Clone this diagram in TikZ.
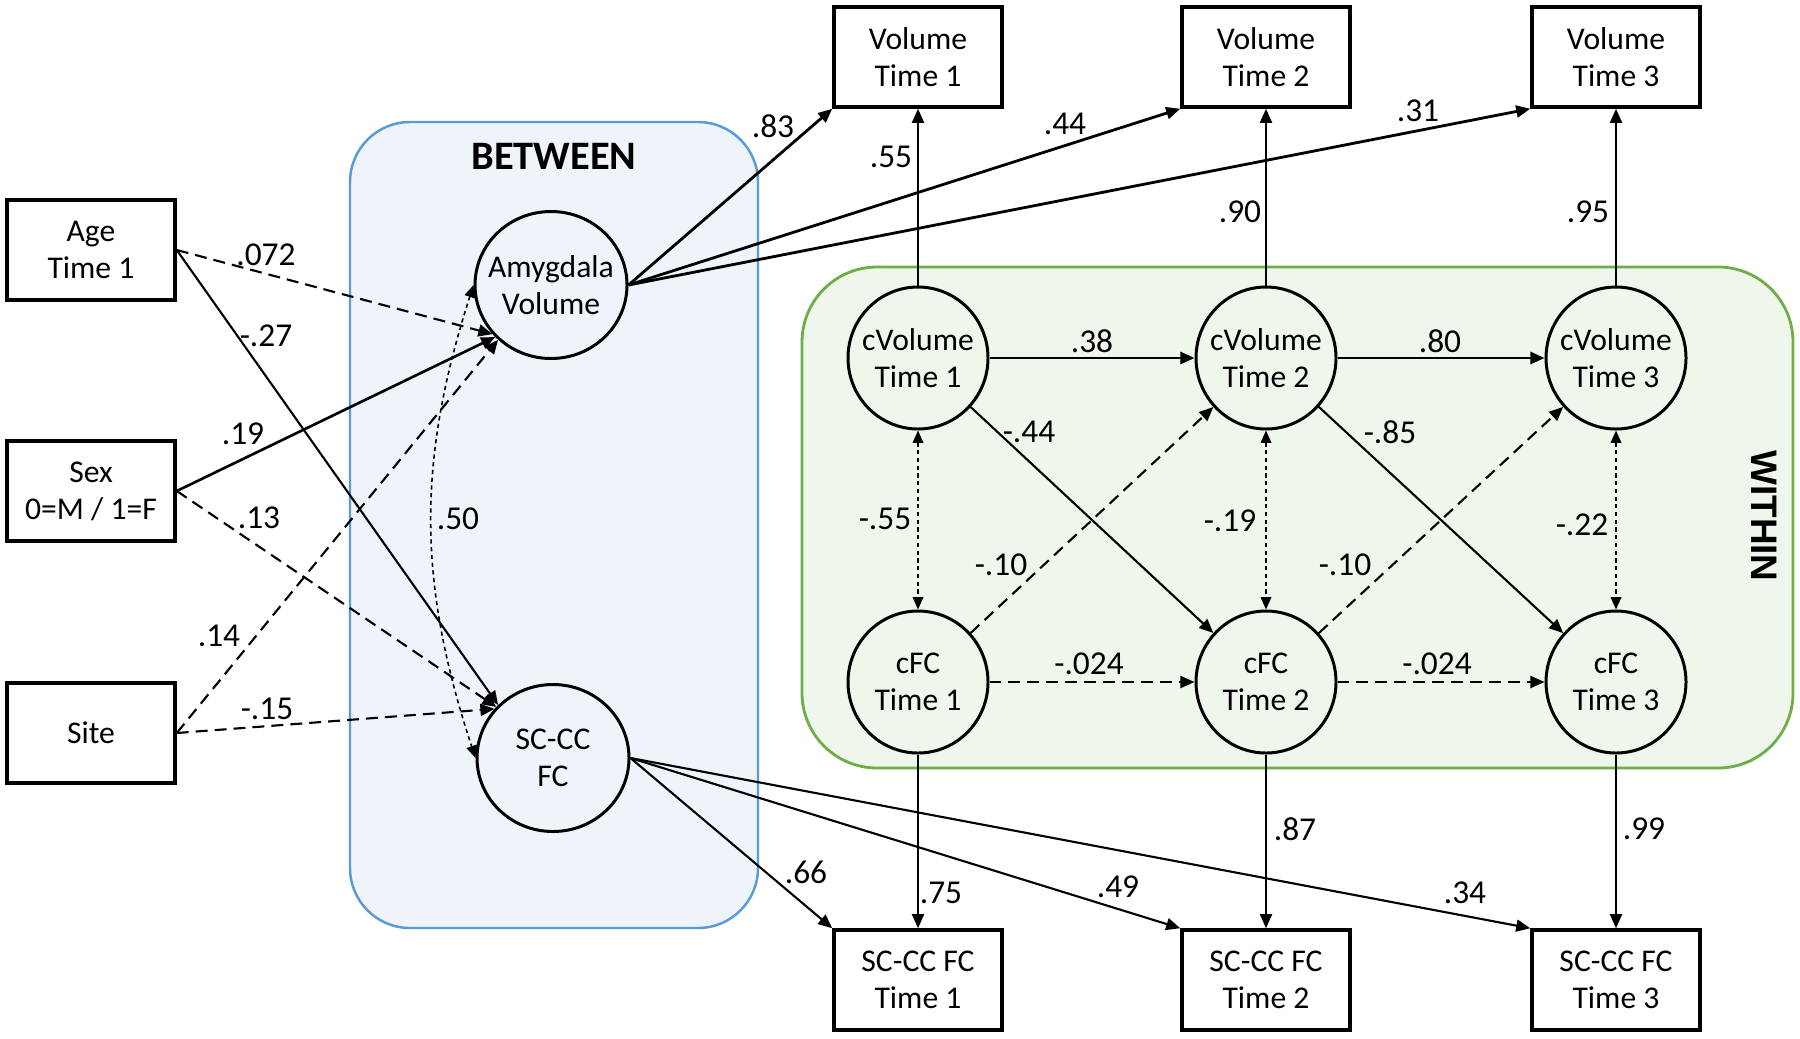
\documentclass[tikz,border=0pt]{standalone}
\usepackage{fontspec}
\setmainfont{Carlito}
\newfontfamily\headfont{Liberation Sans}
\usetikzlibrary{shapes.geometric,arrows.meta}

\definecolor{betweenfill}{HTML}{EEF4FA}
\definecolor{betweenline}{HTML}{5B9BD5}
\definecolor{withinfill}{HTML}{EFF6EB}
\definecolor{withinline}{HTML}{70AD47}

\tikzset{
  obs/.style={draw, line width=1pt, minimum width=16.8mm, minimum height=10mm,
    align=center, fill=white, font=\fontsize{9}{10.5}\selectfont},
  lat/.style={draw, ellipse, line width=0.85pt, inner xsep=-1.5mm, inner ysep=0pt,
    minimum width=14mm, minimum height=14.2mm, align=center,
    font=\fontsize{9}{10.5}\selectfont},
  reg/.style={-{Triangle[length=4pt,width=3.4pt]}, line width=0.6pt},
  regdash/.style={reg, dash pattern=on 3.4pt off 2pt},
  cov/.style={{Triangle[length=3.5pt,width=3pt]}-{Triangle[length=3.5pt,width=3pt]},
    line width=0.45pt, dash pattern=on 1.2pt off 1pt},
  lbl/.style={font=\fontsize{9.5}{11}\selectfont, inner sep=1pt}
}

\begin{document}
\begin{tikzpicture}[x=0.1mm,y=-0.1mm]
\useasboundingbox (0,0) rectangle (1800,1038);

% panels
\draw[betweenline, fill=betweenfill, line width=0.7pt, rounded corners=6mm] (350,122) rectangle (758,928);
\draw[withinline, fill=withinfill, line width=0.8pt, rounded corners=7.5mm] (802,267) rectangle (1793,768);
\node[font=\fontsize{11.5}{13}\selectfont\bfseries] (between) at (554,156) {BETWEEN};
\node[font=\headfont\fontsize{10.5}{12}\selectfont\bfseries, rotate=-90] (within) at (1764,516) {WITHIN};

% observed variables
\node[obs] (age) at (91,250) {Age\\Time 1};
\node[obs] (sex) at (91,491) {Sex\\0=M / 1=F};
\node[obs] (site) at (91,733) {Site};
\node[obs] (vol1) at (918,57) {Volume\\Time 1};
\node[obs] (vol2) at (1266,57) {Volume\\Time 2};
\node[obs] (vol3) at (1616,57) {Volume\\Time 3};
\node[obs] (fc1) at (918,980) {SC-CC FC\\Time 1};
\node[obs] (fc2) at (1266,980) {SC-CC FC\\Time 2};
\node[obs] (fc3) at (1616,980) {SC-CC FC\\Time 3};

% latent variables
\node[lat, minimum width=15.2mm, minimum height=14.7mm] (amy) at (551,285) {Amygdala\\Volume};
\node[lat, minimum width=15.2mm, minimum height=14.7mm] (scfc) at (553,758) {SC-CC\\FC};
\node[lat] (cv1) at (918,358) {cVolume\\Time 1};
\node[lat] (cv2) at (1266,358) {cVolume\\Time 2};
\node[lat] (cv3) at (1616,358) {cVolume\\Time 3};
\node[lat] (cf1) at (918,682) {cFC\\Time 1};
\node[lat] (cf2) at (1266,682) {cFC\\Time 2};
\node[lat] (cf3) at (1616,682) {cFC\\Time 3};

% covariates
\draw[regdash] (age.east) -- (amy.220);
\draw[reg] (age.east) -- (scfc.136);
\draw[reg, line width=0.75pt] (sex.east) -- (amy.223);
\draw[regdash] (sex.east) -- (scfc.138);
\draw[regdash] (site.east) -- (amy.226);
\draw[regdash] (site.east) -- (scfc.140);
\draw[cov] (amy.west) to[bend right=18] (scfc.west);

% between loadings
\draw[reg, line width=0.8pt] (amy.east) -- (vol1.south west);
\draw[reg, line width=0.8pt] (amy.east) -- (vol2.south west);
\draw[reg, line width=0.8pt] (amy.east) -- (vol3.south west);
\draw[reg] (scfc.east) -- (fc1.north west);
\draw[reg] (scfc.east) -- (fc2.north west);
\draw[reg] (scfc.east) -- (fc3.north west);

% within loadings
\draw[reg] (cv1.north) -- (vol1.south);
\draw[reg] (cv2.north) -- (vol2.south);
\draw[reg] (cv3.north) -- (vol3.south);
\draw[reg] (cf1.south) -- (fc1.north);
\draw[reg] (cf2.south) -- (fc2.north);
\draw[reg] (cf3.south) -- (fc3.north);

% cross-lagged paths
\draw[reg, line width=0.8pt] (cv1) -- (cv2);
\draw[reg, line width=0.8pt] (cv2) -- (cv3);
\draw[regdash] (cf1) -- (cf2);
\draw[regdash] (cf2) -- (cf3);
\draw[reg] (cv1) -- (cf2);
\draw[reg] (cv2) -- (cf3);
\draw[regdash] (cf1) -- (cv2);
\draw[regdash] (cf2) -- (cv3);
\draw[cov] (cv1.south) -- (cf1.north);
\draw[cov] (cv2.south) -- (cf2.north);
\draw[cov] (cv3.south) -- (cf3.north);

% coefficients
\node[lbl] (c072) at (266,255) {.072};
\node[lbl] (c27) at (266,336) {-.27};
\node[lbl] (c19) at (243,434) {.19};
\node[lbl] (c13) at (259,518) {.13};
\node[lbl] (c14) at (219,636) {.14};
\node[lbl] (c15) at (267,709) {-.15};
\node[lbl] (c50) at (458,519) {.50};
\node[lbl] (c83) at (773,126) {.83};
\node[lbl] (c44) at (1065,124) {.44};
\node[lbl] (c31) at (1418,111) {.31};
\node[lbl] (c55) at (891,157) {.55};
\node[lbl] (c90) at (1240,212) {.90};
\node[lbl] (c95) at (1588,212) {.95};
\node[lbl] (c38) at (1092,341) {.38};
\node[lbl] (c80) at (1440,341) {.80};
\node[lbl] (cm44) at (1029,432) {-.44};
\node[lbl] (cm85) at (1390,432) {-.85};
\node[lbl] (cm55) at (885,519) {-.55};
\node[lbl] (cm19) at (1230,521) {-.19};
\node[lbl] (cm22) at (1582,525) {-.22};
\node[lbl] (cm10a) at (1001,565) {-.10};
\node[lbl] (cm10b) at (1345,565) {-.10};
\node[lbl] (c024a) at (1089,664) {-.024};
\node[lbl] (c024b) at (1437,664) {-.024};
\node[lbl] (c75) at (941,893) {.75};
\node[lbl] (c87) at (1295,829) {.87};
\node[lbl] (c99) at (1644,829) {.99};
\node[lbl] (c66) at (806,872) {.66};
\node[lbl] (c49) at (1118,887) {.49};
\node[lbl] (c34) at (1465,893) {.34};

\end{tikzpicture}
\end{document}
